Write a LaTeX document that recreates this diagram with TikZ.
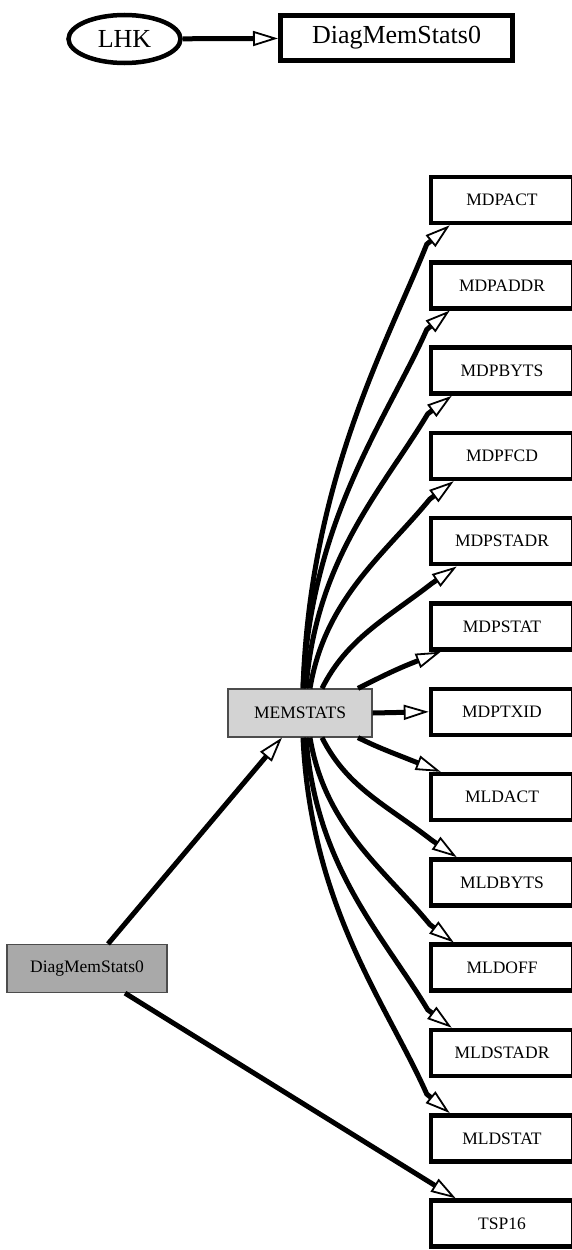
\documentclass[tikz,border=0pt]{standalone}
\usepackage{fontspec}
\setmainfont{Liberation Serif}
\usetikzlibrary{arrows.meta,calc,shapes.geometric}

\begin{document}
\begin{tikzpicture}[x=1pt,y=-1pt,
  every node/.style={inner sep=0pt},
  bigbox/.style={draw, line width=5pt, minimum width=232pt, minimum height=45pt,
                 font=\fontsize{26}{30}\selectfont},
  oval/.style={draw, ellipse, line width=4.5pt, minimum width=112pt, minimum height=48pt,
               font=\fontsize{26}{30}\selectfont},
  leaf/.style={draw, line width=4.5pt, minimum width=142pt, minimum height=46pt,
               font=\fontsize{17.5}{20}\selectfont},
  hub/.style={draw=black!70, line width=1.2pt, minimum width=144pt, minimum height=48pt,
              font=\fontsize{17.5}{20}\selectfont},
  edge/.style={line width=5pt, -{Triangle[open, length=25pt, width=15pt, line width=1.8pt]}},
]
\useasboundingbox (0,0) rectangle (572,1250);

% top row
\node[oval] (LHK) at (124.5,39) {LHK};
\node[bigbox] (TOP) at (396.5,38) {DiagMemStats0};
\draw[edge] (LHK) -- (TOP);

% hub nodes
\node[hub, fill={rgb,255:red,211;green,211;blue,211}] (MEM) at (300,713) {MEMSTATS};
\node[hub, fill={rgb,255:red,169;green,169;blue,169}, minimum width=160pt] (D) at (87,968.5) {DiagMemStats0};

% right column
\foreach \n [count=\i from 0] in {MDPACT,MDPADDR,MDPBYTS,MDPFCD,MDPSTADR,MDPSTAT,MDPTXID,
                                  MLDACT,MLDBYTS,MLDOFF,MLDSTADR,MLDSTAT,TSP16}
  \node[leaf] (\n) at (502,{200+85.3*\i}) {\n};

% edges leaving the top of MEMSTATS
\foreach \n/\sx/\dx/\bx/\by/\ax/\ay/\cx/\cy in {
    MDPACT/3/21/-23/19/7/-209/-40/100,
    MDPADDR/3/21/-23/19/8/-170/-40/90,
    MDPBYTS/6/23/-24/18/10/-130/-45/75,
    MDPFCD/10/25/-24/18/15/-90/-45/55,
    MDPSTADR/22/28/-25/17/25/-50/-45/35,
    MDPSTAT/58/12/-28/11/20/-10/-20/8}
  \draw[edge] ($(MEM.north)+(\sx,0)$) .. controls +(\ax,\ay) and +(\cx,\cy) ..
      ($(\n.south west)+(\dx,0)+(\bx,\by)$) -- ($(\n.south west)+(\dx,0)$);

% edges leaving the bottom of MEMSTATS (mirror images of the upper ones)
\foreach \n/\sx/\dx/\bx/\by/\ax/\ay/\cx/\cy in {
    MLDSTAT/3/21/-23/19/8/170/-40/-90,
    MLDSTADR/6/23/-24/18/10/130/-45/-75,
    MLDOFF/10/25/-24/18/15/90/-45/-55,
    MLDBYTS/22/28/-25/17/25/50/-45/-35,
    MLDACT/58/12/-28/11/20/10/-20/-8}
  \draw[edge] ($(MEM.south)+(\sx,0)$) .. controls +(\ax,\ay) and +(\cx,\cy) ..
      ($(\n.north west)+(\dx,0)+(\bx,-\by)$) -- ($(\n.north west)+(\dx,0)$);

\draw[edge] (MEM.east) -- (MDPTXID.west);

% edges from the lower DiagMemStats0
\draw[edge] ($(D.north)+(21,0)$) -- ($(MEM.south)+(-18,0)$);
\draw[edge] ($(D.south)+(38,0)$) -- ($(TSP16.north west)+(27,0)$);
\end{tikzpicture}
\end{document}
